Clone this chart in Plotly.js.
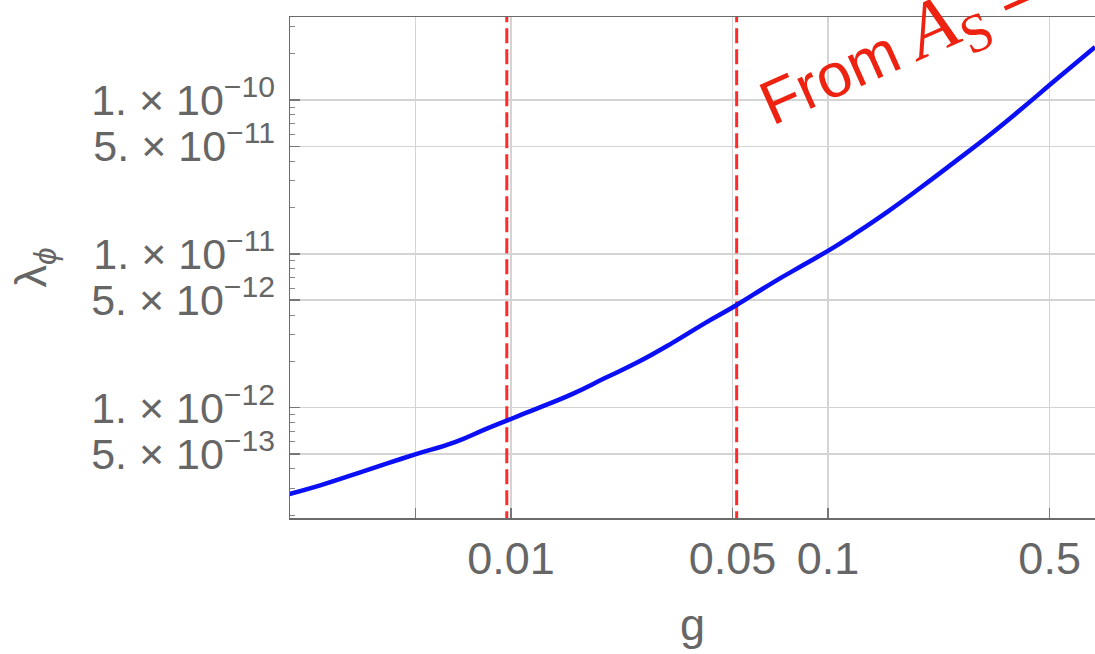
<!DOCTYPE html>
<html>
<head>
<meta charset="utf-8">
<script src="https://cdn.plot.ly/plotly-3.0.1.min.js"></script>
<style>
  html, body { margin: 0; padding: 0; background: #ffffff; }
  #chart { width: 1095px; height: 654px; }
</style>
</head>
<body>
<div id="chart"></div>
<script>
// ---- data ----
const gValues = [0.001979, 0.002516, 0.003220, 0.004093, 0.005017, 0.006659, 0.008461, 0.01052, 0.01217,
  0.01558, 0.01979, 0.02516, 0.03220, 0.04093, 0.05087, 0.06659, 0.08461, 0.1052, 0.1199, 0.1535,
  0.1951, 0.2479, 0.3174, 0.4034, 0.5127, 0.6956];
const lambdaValues = [2.73e-13, 3.14e-13, 3.70e-13, 4.36e-13, 4.99e-13, 5.97e-13, 7.37e-13, 8.82e-13, 9.94e-13,
  1.226e-12, 1.558e-12, 1.979e-12, 2.63e-12, 3.55e-12, 4.58e-12, 6.46e-12, 8.59e-12, 1.115e-11, 1.326e-11, 1.87e-11,
  2.68e-11, 3.89e-11, 5.75e-11, 8.61e-11, 1.309e-10, 2.212e-10];

// vertical reference lines (g values)
const markerG = [0.0097, 0.0515];

// tick values / labels
const xTickVals = [0.005, 0.01, 0.05, 0.1, 0.5];
const xTickText = ["", "0.01", "0.05", "0.1", "0.5"];
const yTickVals = [5e-13, 1e-12, 5e-12, 1e-11, 5e-11, 1e-10];
const yTickText = [
  "5. \u00d7 10<sup>\u221213</sup>",
  "1. \u00d7 10<sup>\u221212</sup>",
  "5. \u00d7 10<sup>\u221212</sup>",
  "1. \u00d7 10<sup>\u221211</sup>",
  "5. \u00d7 10<sup>\u221211</sup>",
  "1. \u00d7 10<sup>\u221210</sup>"
];

const yLow = 1e-14, yHigh = 1e-8; // vertical line extent (beyond visible range)

const traces = [];
markerG.forEach(function (g) {
  traces.push({
    x: [g, g], y: [yLow, yHigh],
    mode: 'lines', type: 'scatter',
    line: { color: '#ff2a2a', width: 3, dash: '15px,6px' },
    hoverinfo: 'skip', showlegend: false
  });
});
traces.push({
  x: gValues, y: lambdaValues,
  mode: 'lines', type: 'scatter',
  line: { color: '#0a0ff5', width: 4.5, shape: 'spline', smoothing: 1.3 },
  showlegend: false
});

const fontMain = 'Liberation Sans, Arial, Helvetica, sans-serif';
const grey = '#666666';

const layout = {
  width: 1095, height: 654,
  margin: { l: 290, r: 0, t: 17, b: 136, pad: 0 },
  paper_bgcolor: '#ffffff', plot_bgcolor: '#ffffff',
  showlegend: false,
  xaxis: {
    type: 'log',
    range: [-2.697, -0.158],
    tickmode: 'array', tickvals: xTickVals, ticktext: xTickText,
    ticks: 'inside', ticklen: 10, tickwidth: 1.5, tickcolor: '#777777',
    showgrid: true, gridcolor: '#d4d4d4', gridwidth: 1.5,
    showline: true, linecolor: '#6a6a6a', linewidth: 1.5, mirror: true,
    zeroline: false,
    tickfont: { family: fontMain, size: 45, color: grey },
    ticklabelstandoff: 0,
    title: { text: 'g', font: { family: fontMain, size: 45, color: grey }, standoff: 26 }
  },
  yaxis: {
    type: 'log',
    range: [-12.717, -9.460],
    tickmode: 'array', tickvals: yTickVals, ticktext: yTickText,
    ticks: 'inside', ticklen: 10, tickwidth: 1.5, tickcolor: '#777777',
    minor: { ticks: 'inside', ticklen: 5, tickwidth: 1, tickcolor: '#888888', dtick: 'D1', showgrid: false },
    showgrid: true, gridcolor: '#d4d4d4', gridwidth: 1.5,
    showline: true, linecolor: '#6a6a6a', linewidth: 1.5, mirror: true,
    zeroline: false,
    tickfont: { family: fontMain, size: 43, color: grey },
    ticklabelstandoff: 5,
    title: { text: '\u03bb<sub><i>\u03d5</i></sub>', font: { family: fontMain, size: 45, color: grey }, standoff: 30 }
  },
  annotations: [{
    xref: 'paper', yref: 'paper',
    x: 0.755, y: 0.94,
    xanchor: 'center', yanchor: 'middle',
    textangle: -24,
    showarrow: false,
    font: { family: fontMain, size: 62, color: '#ee2211' },
    text: 'From <span style="font-family:Liberation Serif, Times New Roman, serif;font-size:78px"><i>A</i><sub>S</sub></span> ='
  }]
};

Plotly.newPlot('chart', traces, layout, { staticPlot: true, displayModeBar: false });
</script>
</body>
</html>
